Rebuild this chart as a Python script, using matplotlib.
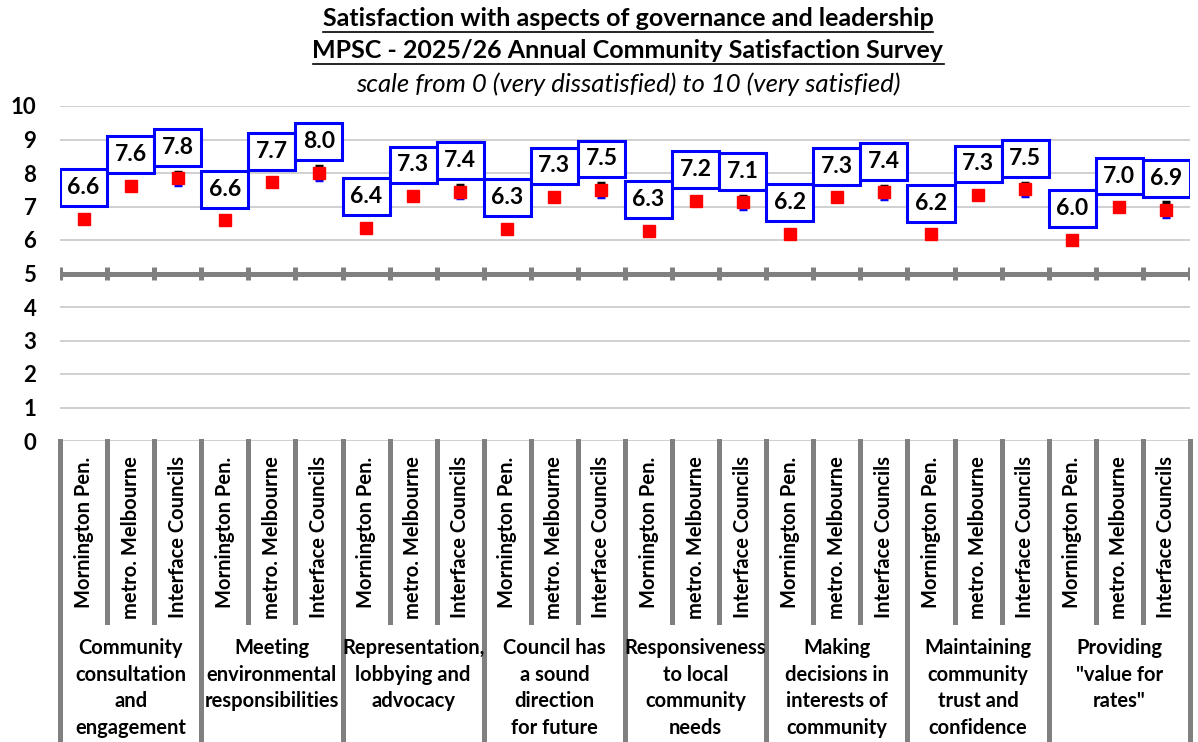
import numpy as np
import matplotlib
matplotlib.use("Agg")
import matplotlib.pyplot as plt
from matplotlib.patches import Rectangle
from matplotlib.lines import Line2D
from matplotlib.transforms import blended_transform_factory

plt.rcParams['font.family'] = ['Lato', 'DejaVu Sans']

# data
groups = ["Community\nconsultation\nand\nengagement",
          "Meeting\nenvironmental\nresponsibilities",
          "Representation,\nlobbying and\nadvocacy",
          "Council has\na sound\ndirection\nfor future",
          "Responsiveness\nto local\ncommunity\nneeds",
          "Making\ndecisions in\ninterests of\ncommunity",
          "Maintaining\ncommunity\ntrust and\nconfidence",
          "Providing\n\"value for\nrates\""]
areas = ["Mornington Pen.", "metro. Melbourne", "Interface Councils"]
mornington = [6.64, 6.59, 6.36, 6.34, 6.27, 6.19, 6.17, 6.00]
metro = [7.62, 7.72, 7.31, 7.28, 7.17, 7.27, 7.34, 6.98]
interface = [7.84, 8.00, 7.44, 7.49, 7.12, 7.42, 7.51, 6.90]
err_mornington = [0.12, 0.12, 0.12, 0.12, 0.12, 0.12, 0.12, 0.12]
err_metro = [0.09, 0.09, 0.09, 0.09, 0.09, 0.09, 0.09, 0.09]
err_interface = [0.2, 0.2, 0.2, 0.2, 0.2, 0.2, 0.2, 0.22]

# interleave into 24 columns
vals = np.array([mornington, metro, interface]).T.ravel()
errs = np.array([err_mornington, err_metro, err_interface]).T.ravel()
ticklabels = areas * len(groups)
x = np.arange(len(vals))

W, H = 1198, 742
fig = plt.figure(figsize=(W / 100, H / 100), dpi=100)
ax = fig.add_axes([60 / W, 1 - 441 / H, 1130 / W, 335 / H])
ax.set_xlim(-0.5, len(vals) - 0.5)
ax.set_ylim(0, 10)

grey = '#808080'
ax.set_yticks(range(0, 11))
ax.yaxis.grid(True, color='#c8c8c8', lw=1.2, zorder=0)
ax.set_axisbelow(True)
for s in ax.spines.values():
    s.set_visible(False)
ax.tick_params(axis='y', length=0, pad=17, labelsize=16)
for t in ax.get_yticklabels():
    t.set_fontweight('bold')

# thick grey line at 5 with little ticks at column boundaries
bounds = np.arange(-0.5, len(vals), 1.0)
ax.axhline(5, color=grey, lw=3.6, zorder=2)
ax.vlines(bounds, 4.8, 5.2, color=grey, lw=3.6, zorder=2)

# error bars (upper black, lower blue) then markers
ax.errorbar(x, vals, yerr=[errs, np.zeros_like(errs)], fmt='none', ecolor='#0000ff',
            elinewidth=2.5, capsize=3, capthick=2.5, zorder=3)
ax.errorbar(x, vals, yerr=[np.zeros_like(errs), errs], fmt='none', ecolor='black',
            elinewidth=2.5, capsize=3, capthick=2.5, zorder=3)
ax.plot(x, vals, 's', color='#ff0000', ms=8, zorder=4)

# boxed value labels
for xi, v in zip(x, vals):
    cy = v + 0.93
    ax.add_patch(Rectangle((xi - 0.5, cy - 0.55), 1, 1.1, fc='white', ec='#0000ff',
                           lw=2.2, zorder=5))
    ax.text(xi, cy, f"{v:.1f}", ha='center', va='center', fontsize=16.5,
            fontweight='bold', zorder=6)

# x labels
ax.set_xticks(x)
ax.set_xticklabels(ticklabels, rotation=90, fontsize=14.5, fontweight='bold',
                   va='top', ha='center')
ax.tick_params(axis='x', length=0, pad=11)

# divider lines below the axis
tr = blended_transform_factory(ax.transData, fig.transFigure)
for i, b in enumerate(bounds):
    y_end = 0 if i % 3 == 0 else 1 - 622 / H
    ax.add_line(Line2D([b, b], [1 - 441 / H, y_end], color=grey, lw=3.6,
                       transform=tr, clip_on=False))

for g, name in enumerate(groups):
    ax.text(g * 3 + 1, 1 - 638 / H, name, transform=tr, ha='center', va='top',
            fontsize=14.5, fontweight='bold', linespacing=1.42)

# titles
t1 = fig.text(628 / W, 1 - 19 / H, "Satisfaction with aspects of governance and leadership",
              ha='center', va='center', fontsize=18, fontweight='bold')
t2 = fig.text(628 / W, 1 - 51 / H, "MPSC - 2025/26 Annual Community Satisfaction Survey",
              ha='center', va='center', fontsize=18, fontweight='bold')
fig.text(628 / W, 1 - 84 / H, "scale from 0 (very dissatisfied) to 10 (very satisfied)",
         ha='center', va='center', fontsize=18.5, style='italic')

fig.canvas.draw()
r = fig.canvas.get_renderer()
for t in (t1, t2):
    bb = t.get_window_extent(r)
    yl = (bb.y0 - 1) / H
    fig.add_artist(Line2D([bb.x0 / W, bb.x1 / W], [yl, yl], color='black', lw=1.2))

fig.savefig('out.png', dpi=100)
